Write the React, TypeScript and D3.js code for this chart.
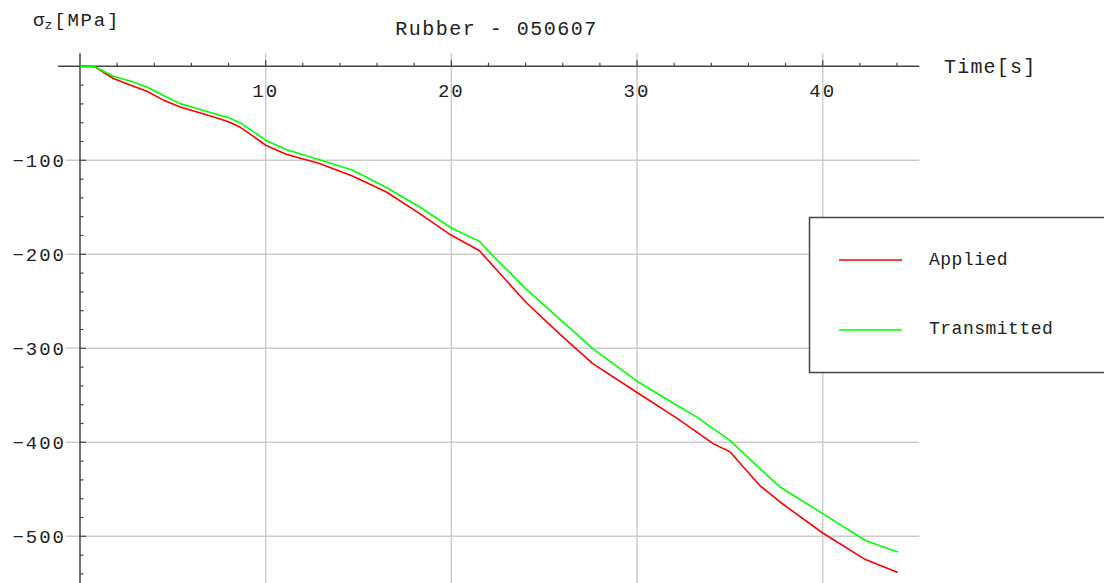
import React from "react";
import * as d3 from "d3";

const timeS = [0, 0.8, 1.8, 2.7, 3.6, 4.5, 5.4, 6.3, 7.2, 8.0, 8.6, 9.3, 10, 11.1, 12.9, 14.7, 16.5, 18.3, 20, 21.5, 22.3, 24.0, 25.9, 27.6, 30, 32.1, 33.2, 34.1, 35, 36.6, 37.7, 40, 42.3, 44.05];
const applied = [0, -0.5, -13, -20, -26.6, -36, -43.3, -48.6, -53.9, -59, -64.5, -74, -84, -93.6, -103.5, -117, -133.7, -156.7, -179.8, -196, -213.5, -250.7, -286, -316, -347, -373.7, -389, -401.4, -410, -445.7, -463.5, -496.5, -524.8, -538.6];
const transmitted = [0, -0.5, -10.6, -15.6, -22, -31, -39.7, -45, -50.3, -54.6, -60, -69, -78.7, -88.6, -99.3, -110.6, -129, -149.7, -172, -186, -202.9, -236.5, -270, -300, -335, -360, -373, -385.4, -398, -427.7, -447.5, -475.9, -504.5, -516.7];

const xMajor = [10, 20, 30, 40];
const xMinor = [2, 4, 6, 8, 12, 14, 16, 18, 22, 24, 26, 28, 32, 34, 36, 38, 42, 44];
const yMajor = [-100, -200, -300, -400, -500];
const yMinor = d3.range(-540, 0, 20).filter((v) => v % 100 !== 0);

const seriesNames = ["Applied", "Transmitted"];
const seriesColors = ["#ff0000", "#00ff00"];

const W = 1104;
const H = 583;
const FONT = "'Liberation Mono', 'Courier New', monospace";

export default function App() {
  const x = d3.scaleLinear().domain([0, 40]).range([80, 822.7]);
  const y = d3.scaleLinear().domain([0, -500]).range([66.3, 536.3]);
  const xLeft = x(-1.18);
  const xRight = x(45.2);
  const yTop = y(13.8);
  const yBottom = H;

  const line = d3
    .line<number>()
    .x((_, i) => x(timeS[i]))
    .y((d) => y(d));

  const series = [applied, transmitted];
  const axisColor = "#444444";
  const gridColor = "#cccccc";

  return (
    <svg
      width={W}
      height={H}
      style={{ position: "absolute", left: 0, top: 0, background: "#fff" }}
    >
      <rect x={0} y={0} width={W} height={H} fill="#fff" />
      {/* grid */}
      {xMajor.map((v) => (
        <line key={"gx" + v} x1={x(v)} x2={x(v)} y1={yTop} y2={yBottom} stroke={gridColor} strokeWidth={1.5} />
      ))}
      {yMajor.map((v) => (
        <line key={"gy" + v} x1={65.5} x2={xRight} y1={y(v)} y2={y(v)} stroke={gridColor} strokeWidth={1.5} />
      ))}
      {/* axes */}
      <line x1={xLeft} x2={xRight} y1={y(0)} y2={y(0)} stroke={axisColor} strokeWidth={1.5} />
      <line x1={x(0)} x2={x(0)} y1={yTop} y2={yBottom} stroke={axisColor} strokeWidth={1.5} />
      {xMinor.map((v) => (
        <line key={"tx" + v} x1={x(v)} x2={x(v)} y1={y(0)} y2={y(0) - 3.5} stroke={axisColor} strokeWidth={1.2} />
      ))}
      {xMajor.map((v) => (
        <line key={"tX" + v} x1={x(v)} x2={x(v)} y1={y(0)} y2={y(0) - 6} stroke={axisColor} strokeWidth={1.2} />
      ))}
      {yMinor.map((v) => (
        <line key={"ty" + v} x1={x(0)} x2={x(0) + 3.5} y1={y(v)} y2={y(v)} stroke={axisColor} strokeWidth={1.2} />
      ))}
      {yMajor.map((v) => (
        <line key={"tY" + v} x1={x(0)} x2={x(0) + 6} y1={y(v)} y2={y(v)} stroke={axisColor} strokeWidth={1.2} />
      ))}
      {/* tick labels */}
      {xMajor.map((v) => (
        <text key={"lx" + v} x={x(v)} y={96.5} textAnchor="middle" fontFamily={FONT} fontSize={19} letterSpacing={2} fill="#222">
          {String(v)}
        </text>
      ))}
      {yMajor.map((v) => (
        <text key={"ly" + v} x={66} y={y(v) + 6.5} textAnchor="end" fontFamily={FONT} fontSize={19} letterSpacing={2} fill="#222">
          {"\u2212" + String(Math.abs(v))}
        </text>
      ))}
      {/* curves */}
      {series.map((s, i) => (
        <path key={"s" + i} d={line(s) || ""} fill="none" stroke={seriesColors[i]} strokeWidth={1.6} strokeLinejoin="round" />
      ))}
      {/* titles */}
      <text x={496.5} y={35} textAnchor="middle" fontFamily={FONT} fontSize={20} letterSpacing={1.5} fill="#222">
        Rubber - 050607
      </text>
      <text x={944} y={73} fontFamily={FONT} fontSize={20} letterSpacing={1.2} fill="#222">
        Time[s]
      </text>
      <text x={33} y={26} fontFamily={FONT} fontSize={19} fill="#222">
        <tspan>σ</tspan>
        <tspan fontSize={13} dy={3}>z</tspan>
        <tspan dy={-3} dx={2} letterSpacing={1.8}>[MPa]</tspan>
      </text>
      {/* legend */}
      <rect x={809.5} y={217.5} width={400} height={155} fill="#fff" stroke={axisColor} strokeWidth={1.5} />
      {seriesNames.map((n, i) => (
        <g key={"lg" + n}>
          <line x1={839} x2={902} y1={260 + i * 70} y2={260 + i * 70} stroke={seriesColors[i]} strokeWidth={1.6} />
          <text x={929} y={264.5 + i * 69} fontFamily={FONT} fontSize={18} letterSpacing={0.5} fill="#222">
            {n}
          </text>
        </g>
      ))}
    </svg>
  );
}
